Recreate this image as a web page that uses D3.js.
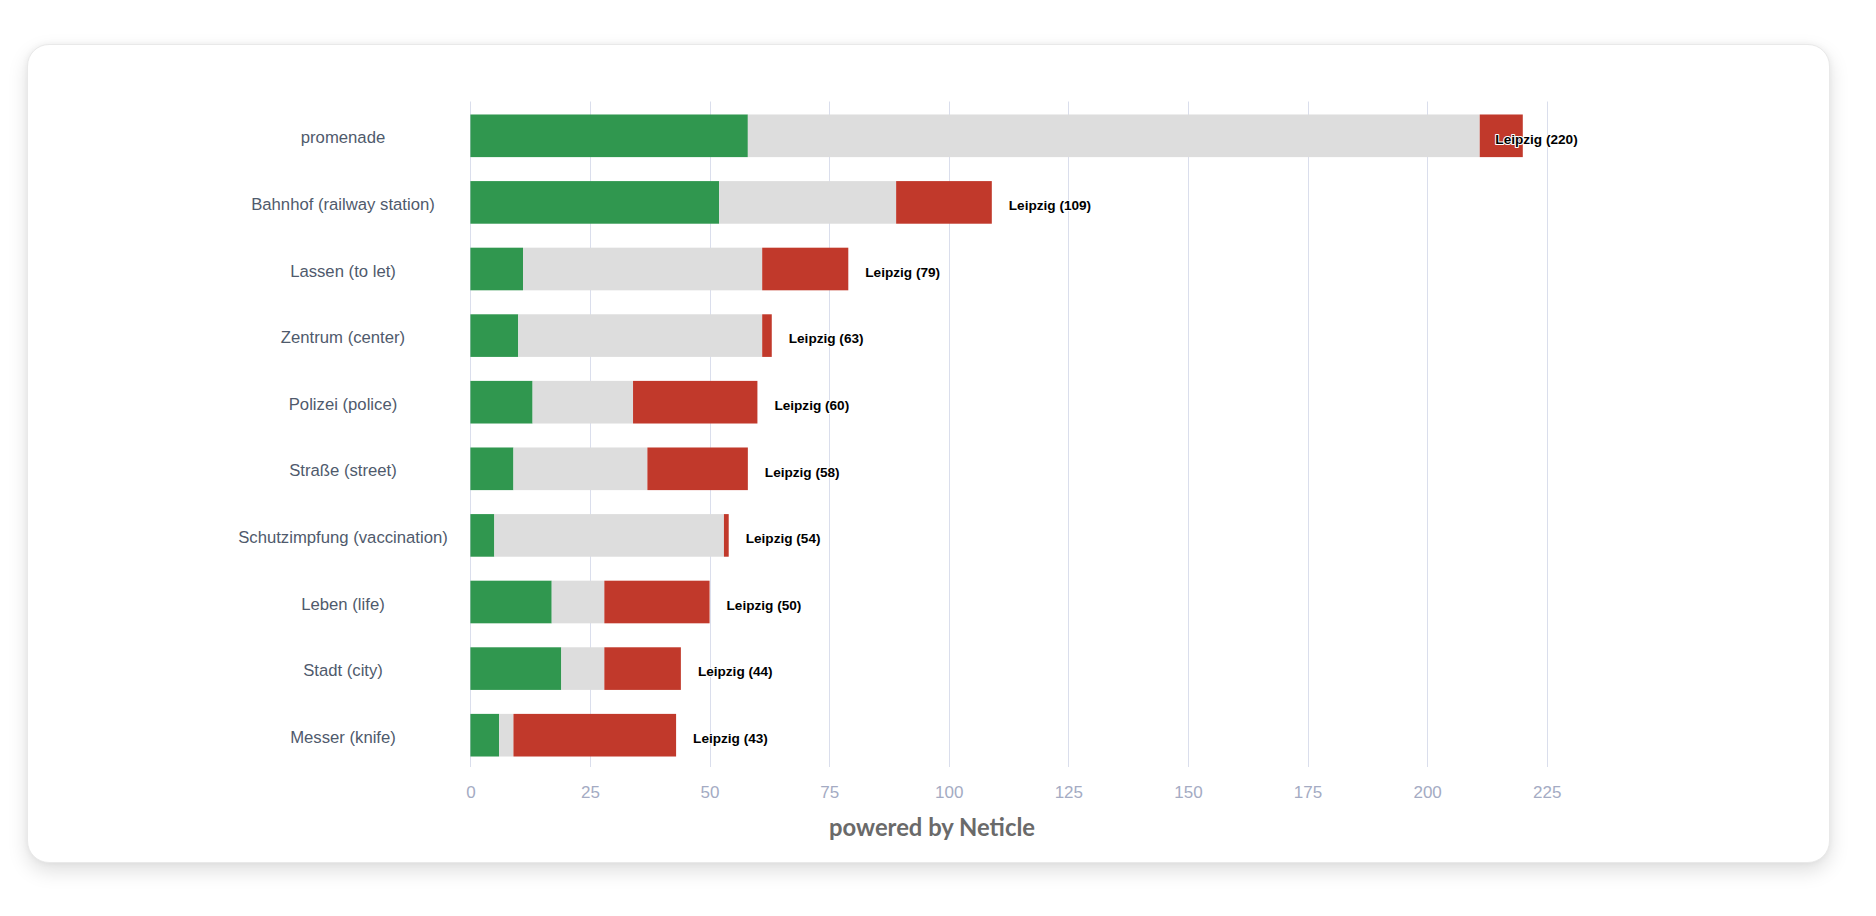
<!DOCTYPE html>
<html>
<head>
<meta charset="utf-8">
<script src="https://cdn.jsdelivr.net/npm/d3@7"></script>
<style>
  html, body { margin: 0; padding: 0; background: #ffffff; width: 1876px; height: 916px; overflow: hidden; }
  #card { position: absolute; left: 27px; top: 44px; width: 1803px; height: 819px;
          background: #fff; border-radius: 22px; border: 1px solid #e9e9e9; box-sizing: border-box;
          box-shadow: 0 8px 20px rgba(0,0,0,0.13), 0 0 6px rgba(0,0,0,0.05); }
  svg { position: absolute; left: 0; top: 0; }
</style>
</head>
<body>
<div id="card"></div>
<svg id="chart" width="1876" height="916"></svg>
<script>
const categories = ["promenade", "Bahnhof (railway station)", "Lassen (to let)", "Zentrum (center)",
  "Polizei (police)", "Straße (street)", "Schutzimpfung (vaccination)", "Leben (life)", "Stadt (city)", "Messer (knife)"];
const positive = [58, 52, 11, 10, 13, 9, 5, 17, 19, 6];
const neutral  = [153, 37, 50, 51, 21, 28, 48, 11, 9, 3];
const negative = [9, 20, 18, 2, 26, 21, 1, 22, 16, 34];
const totals   = [220, 109, 79, 63, 60, 58, 54, 50, 44, 43];
const cityName = "Leipzig";
const xTicks = [0, 25, 50, 75, 100, 125, 150, 175, 200, 225];
const footerText = "powered by Neticle";

const seriesKeys = ["positive", "neutral", "negative"];
const colors = { positive: "#30974f", neutral: "#dddddd", negative: "#c1392b" };

const rows = categories.map((c, i) => ({ cat: c, positive: positive[i], neutral: neutral[i], negative: negative[i], total: totals[i] }));

const svg = d3.select("#chart");
const x = d3.scaleLinear().domain([0, 225]).range([470.4, 1546.7]);
const y = d3.scaleBand().domain(categories).range([102.5, 768.5]).paddingInner(0.36).paddingOuter(0.18);
const [y0, y1] = y.range();

// gridlines
svg.append("g").selectAll("line").data(xTicks).join("line")
  .attr("x1", d => Math.round(x(d)) + 0.5).attr("x2", d => Math.round(x(d)) + 0.5)
  .attr("y1", y0 - 1).attr("y2", y1 - 1.5)
  .attr("stroke", "#dadeec").attr("stroke-width", 1);

// x axis labels
const xAxis = d3.axisBottom(x).tickValues(xTicks).tickSize(0).tickPadding(0);
const gx = svg.append("g").attr("transform", `translate(0,${y1 + 29})`).call(xAxis);
gx.select(".domain").remove();
gx.selectAll("text").attr("dy", 0).attr("y", 0)
  .attr("font-family", "'Liberation Sans', Arial, sans-serif").attr("font-size", 17)
  .attr("fill", "#a4abc3");

// stacked bars
const stack = d3.stack().keys(seriesKeys)(rows);
svg.append("g").selectAll("g").data(stack).join("g")
  .attr("fill", d => colors[d.key])
  .selectAll("rect").data(d => d).join("rect")
  .attr("x", d => x(d[0]))
  .attr("width", d => Math.max(0, x(d[1]) - x(d[0])))
  .attr("y", d => y(d.data.cat))
  .attr("height", y.bandwidth());

// category labels
svg.append("g").selectAll("text").data(categories).join("text")
  .attr("x", 343).attr("y", d => y(d) + y.bandwidth() / 2 + 7.5)
  .attr("text-anchor", "middle")
  .attr("font-family", "'Liberation Sans', Arial, sans-serif").attr("font-size", 16.7)
  .attr("fill", "#4f5a6c")
  .text(d => d);

// data labels
const labelMaxRight = x.range()[1] + 31;
const dl = svg.append("g").selectAll("text").data(rows).join("text")
  .attr("y", d => y(d.cat) + y.bandwidth() / 2 + 7.8)
  .attr("font-family", "'Liberation Sans', Arial, sans-serif").attr("font-size", 13.6).attr("font-weight", "bold")
  .attr("fill", "#000").attr("stroke", "#fff").attr("stroke-width", 2).attr("stroke-linejoin", "round")
  .attr("paint-order", "stroke")
  .text(d => `${cityName} (${d.total})`);
dl.each(function(d) {
  const w = this.getComputedTextLength();
  let lx = x(d.total) + 17;
  if (lx + w > labelMaxRight) lx = labelMaxRight - w;
  d3.select(this).attr("x", lx);
});

// footer
svg.append("text").attr("x", 932).attr("y", 836).attr("text-anchor", "middle")
  .attr("font-family", "Lato, 'Open Sans', sans-serif").attr("font-weight", 700).attr("font-size", 24)
  .attr("fill", "#6a6a6a").attr("textLength", 206).attr("lengthAdjust", "spacingAndGlyphs")
  .text(footerText);
</script>
</body>
</html>
